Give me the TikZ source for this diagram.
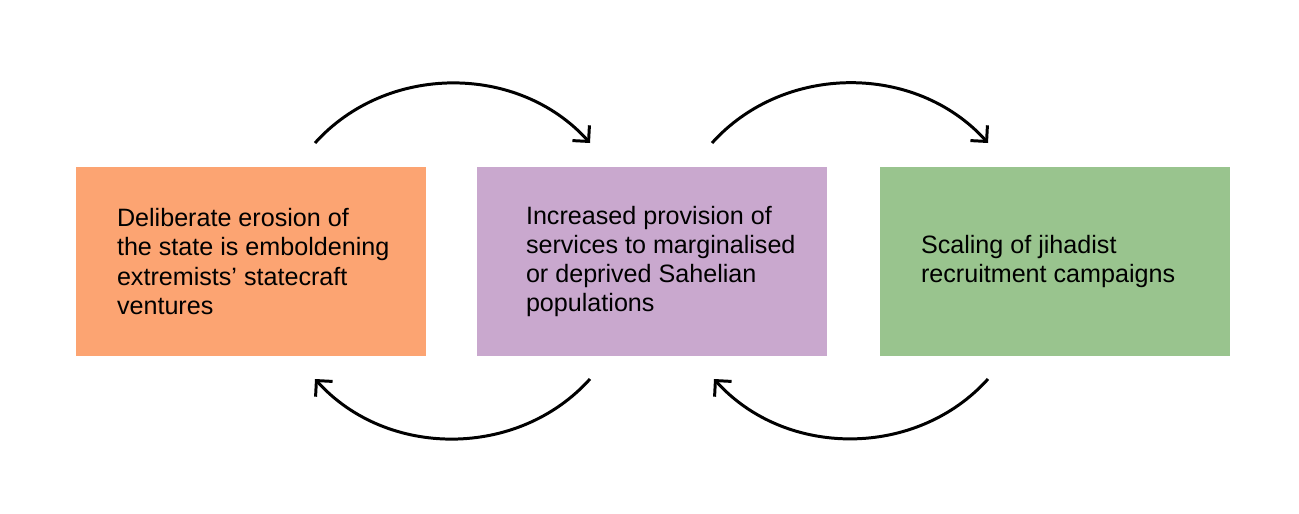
\documentclass[tikz,border=0pt]{standalone}
\usepackage{fontspec}
\setmainfont{Liberation Sans}
\usetikzlibrary{positioning,arrows.meta}

\definecolor{boxorange}{HTML}{FCA472}
\definecolor{boxpurple}{HTML}{C9A8CE}
\definecolor{boxgreen}{HTML}{99C48E}

\begin{document}
\begin{tikzpicture}[x=0.02cm, y=-0.02cm,
  box/.style={rectangle, minimum width=7cm, minimum height=3.78cm, inner sep=0pt},
  txt/.style={align=left, inner sep=0pt, font=\fontsize{14.3}{16.6}\selectfont},
  loop/.style={line width=1.7pt, -{Straight Barb[length=6.5pt, width=13pt]}}]
  \useasboundingbox (0,0) rectangle (1299,514);
  \node[box, fill=boxorange] (erosion) at (251, 261.5) {};
  \node[box, fill=boxpurple] (services) at (652, 261.5) {};
  \node[box, fill=boxgreen] (recruit) at (1055, 261.5) {};
  \node[txt, right=0.82cm of erosion.west] (t1) {Deliberate erosion of\\the state is emboldening\\extremists’ statecraft\\ventures};
  \node[txt, right=0.98cm of services.west] (t2) {Increased provision of\\services to marginalised\\or deprived Sahelian\\populations};
  \node[txt, right=0.82cm of recruit.west] (t3) {Scaling of jihadist\\recruitment campaigns};
  \coordinate (a1) at (315, 143);
  \coordinate (a2) at (590, 143);
  \coordinate (a3) at (712, 143);
  \coordinate (a4) at (988, 143);
  \coordinate (b1) at (315, 379);
  \coordinate (b2) at (590, 379);
  \coordinate (b3) at (714, 379);
  \coordinate (b4) at (988, 379);
  \draw[loop] (a1) to[bend left=48] (a2);
  \draw[loop] (a3) to[bend left=48] (a4);
  \draw[loop] (b2) to[bend left=48] (b1);
  \draw[loop] (b4) to[bend left=48] (b3);
\end{tikzpicture}
\end{document}
